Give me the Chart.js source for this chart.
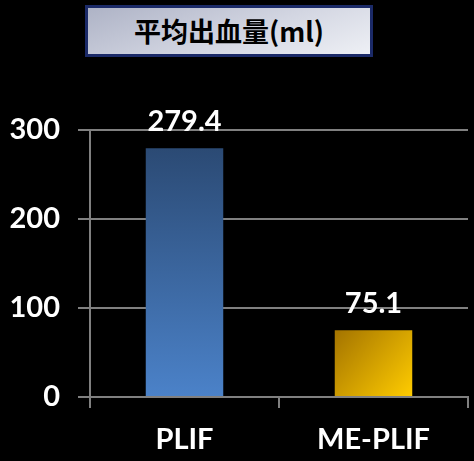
<!DOCTYPE html>
<html>
<head>
<meta charset="utf-8">
<script src="https://cdn.jsdelivr.net/npm/chart.js@4"></script>
<style>
  html, body { margin: 0; padding: 0; background: #000; }
  #wrap { position: relative; width: 474px; height: 461px; }
  #title {
    position: absolute; left: 85px; top: 5px; width: 282px; height: 46px;
    border: 3px solid #1b2a68;
    background: linear-gradient(160deg, #aeb3c6 0%, #d3d6e2 55%, #eef0f5 100%);
    font: bold 27px "Noto Sans CJK SC", sans-serif; color: #000;
    text-align: center; line-height: 46px;
  }
</style>
</head>
<body>
<div id="wrap">
  <canvas id="chart" width="474" height="461"></canvas>
  <div id="title">平均出血量(ml)</div>
</div>
<script>
// データ
const categories = ["PLIF", "ME-PLIF"];
const bleeding = [279.4, 75.1];
const yTicks = [0, 100, 200, 300];

const ctx = document.getElementById("chart").getContext("2d");

// 棒の上の数値
const valueLabels = {
  id: "valueLabels",
  afterDatasetsDraw(chart) {
    const c = chart.ctx;
    const meta = chart.getDatasetMeta(0);
    c.save();
    c.fillStyle = "#fff";
    c.font = "bold 29px Lato";
    c.textAlign = "center";
    c.textBaseline = "alphabetic";
    meta.data.forEach(function (bar, i) {
      c.fillText(bleeding[i].toFixed(1), bar.x, bar.y - 17);
    });
    c.restore();
  }
};

function barColor(context) {
  const chart = context.chart;
  const area = chart.chartArea;
  if (!area) return "#4a7fc5";
  const i = context.dataIndex;
  const x = chart.scales.x.getPixelForValue(i);
  const top = chart.scales.y.getPixelForValue(bleeding[i]);
  let g;
  if (i === 0) {
    g = chart.ctx.createLinearGradient(0, top, 0, area.bottom);
    g.addColorStop(0, "#2b4a74");
    g.addColorStop(1, "#4b82c9");
  } else {
    g = chart.ctx.createLinearGradient(x - 38, top, x + 38, area.bottom);
    g.addColorStop(0, "#a47400");
    g.addColorStop(1, "#ffcc00");
  }
  return g;
}

new Chart(ctx, {
  type: "bar",
  data: {
    labels: categories,
    datasets: [
      {
        data: bleeding,
        backgroundColor: barColor,
        borderWidth: 0,
        categoryPercentage: 1,
        barPercentage: 0.41,
      },
    ],
  },
  options: {
    responsive: false,
    animation: false,
    layout: { padding: { top: 130, right: 6, left: 0, bottom: 0 } },
    plugins: {
      legend: { display: false },
      tooltip: { enabled: false },
    },
    scales: {
      x: {
        grid: {
          offset: true,
          drawOnChartArea: false,
          color: "#808080",
          lineWidth: 2,
          tickLength: 11,
        },
        border: { color: "#808080", width: 2 },
        ticks: {
          color: "#fff",
          font: { family: "Lato", size: 29, weight: "bold" },
          padding: 14,
        },
        afterFit(scale) { scale.height = 64; },
      },
      y: {
        min: 0,
        max: 300,
        afterBuildTicks(scale) {
          scale.ticks = yTicks.map(function (v) { return { value: v }; });
        },
        grid: {
          color: "#808080",
          lineWidth: 2,
          tickLength: 12,
        },
        border: { color: "#808080", width: 2 },
        ticks: {
          color: "#fff",
          font: { family: "Lato", size: 29, weight: "bold" },
          padding: 18,
        },
        afterFit(scale) { scale.width = 90; },
      },
    },
  },
  plugins: [valueLabels],
});
</script>
</body>
</html>
